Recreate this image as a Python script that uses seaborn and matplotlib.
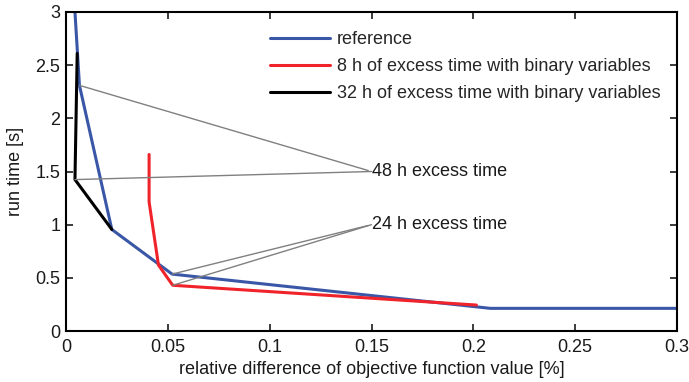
import matplotlib
matplotlib.use("Agg")
import matplotlib.pyplot as plt
import seaborn as sns
import pandas as pd
import numpy as np
from matplotlib.ticker import FuncFormatter

# ---- data ----
ref_x = [0.0044, 0.0066, 0.0225, 0.0521, 0.2084, 0.3000]
ref_y = [3.00, 2.31, 0.955, 0.535, 0.213, 0.213]

h8_x = [0.0408, 0.0408, 0.0454, 0.0524, 0.2015]
h8_y = [1.66, 1.214, 0.62, 0.43, 0.244]

h32_x = [0.0055, 0.0044, 0.0225]
h32_y = [2.61, 1.424, 0.955]

series_names = ["reference",
                "8 h of excess time with binary variables",
                "32 h of excess time with binary variables"]
series_colors = ["#3A57A7", "#F0232A", "#000000"]

ann48_text = "48 h excess time"
ann48_pos = (0.15, 1.50)
ann48_targets = [(ref_x[1], ref_y[1]), (h32_x[1], h32_y[1])]

ann24_text = "24 h excess time"
ann24_pos = (0.15, 1.00)
ann24_targets = [(ref_x[3], ref_y[3]), (h8_x[3], h8_y[3])]

x_ticks = [0, 0.05, 0.1, 0.15, 0.2, 0.25, 0.3]
y_ticks = [0, 0.5, 1, 1.5, 2, 2.5, 3]

# ---- build long table ----
frames = []
for name, xs, ys in zip(series_names, [ref_x, h8_x, h32_x], [ref_y, h8_y, h32_y]):
    frames.append(pd.DataFrame({"x": xs, "y": ys, "series": name}))
df = pd.concat(frames, ignore_index=True)

sns.set_style("ticks")
plt.rcParams["font.family"] = ["Liberation Sans", "DejaVu Sans"]
plt.rcParams["font.size"] = 13

fig = plt.figure(figsize=(6.89, 3.82), dpi=100)
ax = fig.add_axes([66 / 689, 1 - 331 / 382, 611 / 689, 319 / 382])

sns.lineplot(data=df, x="x", y="y", hue="series", hue_order=series_names,
             palette=series_colors, sort=False, estimator=None,
             linewidth=2.2, ax=ax, legend=True)

for txt, pos, targets in [(ann48_text, ann48_pos, ann48_targets),
                          (ann24_text, ann24_pos, ann24_targets)]:
    for i, t in enumerate(targets):
        ax.annotate(txt if i == 0 else "", xy=t, xytext=pos, textcoords="data",
                    ha="left", va="center", fontsize=13, color="#1a1a1a",
                    arrowprops=dict(arrowstyle="-", color="#808080", lw=1.0,
                                    shrinkA=0, shrinkB=0, relpos=(0, 0.5)))

ax.set_xlim(0, 0.3)
ax.set_ylim(0, 3)
ax.set_xticks(x_ticks)
ax.set_yticks(y_ticks)
fmt = FuncFormatter(lambda v, p: f"{v:g}")
ax.xaxis.set_major_formatter(fmt)
ax.yaxis.set_major_formatter(fmt)
ax.tick_params(direction="in", length=5, width=1.2, top=True, right=True,
               labelsize=13, colors="#1a1a1a")
ax.tick_params(axis="x", pad=6)
ax.tick_params(axis="y", pad=4)
for s in ax.spines.values():
    s.set_visible(True)
    s.set_linewidth(1.5)
    s.set_color("#000000")

ax.set_xlabel("relative difference of objective function value [%]", fontsize=13, labelpad=3, color="#1a1a1a")
ax.set_ylabel("run time [s]", fontsize=13, labelpad=8, color="#1a1a1a")

leg = ax.legend(loc="upper left", bbox_to_anchor=((270 - 66) / 611, (331 - 31) / 319),
                frameon=False, borderaxespad=0, borderpad=0, handlelength=3.3,
                handletextpad=0.4, labelspacing=0.56, fontsize=13)
for h in leg.get_lines():
    h.set_linewidth(2.2)

fig.savefig("out.png", dpi=100)
